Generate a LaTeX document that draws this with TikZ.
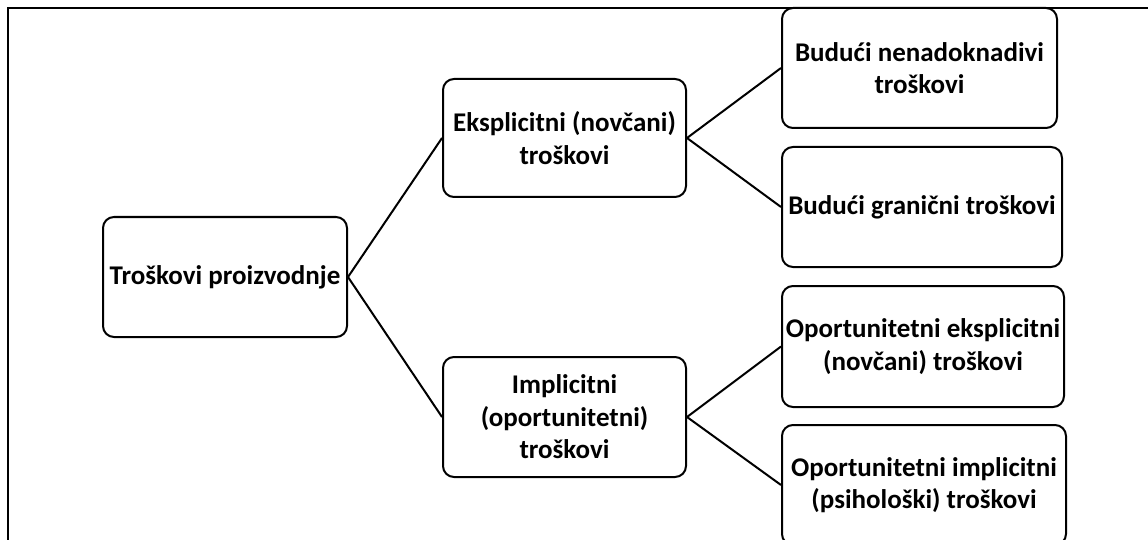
\documentclass[tikz,border=0pt]{standalone}
\usepackage{fontspec}
\setmainfont{Carlito}
\tikzset{
    kutija/.style={draw, line width=2pt, rounded corners=11pt, align=center,
        font=\fontsize{27}{32.5}\selectfont\bfseries, inner sep=2pt},
    veza/.style={line width=2pt}
}
\begin{document}
\begin{tikzpicture}[x=1pt, y=-1pt]
    \useasboundingbox (0,0) rectangle (1148,540);

    % Okvir
    \draw[line width=2.5pt] (8,541) -- (8,8) -- (1148,8);

    % Korijen
    \node[kutija, minimum width=244pt, minimum height=120pt] (trosk) at (225,277) {Troškovi proizvodnje};

    % Druga razina
    \node[kutija, minimum width=243pt, minimum height=118pt] (ekspl) at (564.5,138) {Eksplicitni (novčani)\\troškovi};
    \node[kutija, minimum width=243pt, minimum height=120pt] (impl) at (564.5,417) {Implicitni\\(oportunitetni)\\troškovi};

    % Treća razina
    \node[kutija, minimum width=275pt, minimum height=120pt] (nenad) at (919.5,68) {Budući nenadoknadivi\\troškovi};
    \node[kutija, minimum width=280pt, minimum height=120pt] (granic) at (922,207) {Budući granični troškovi};
    \node[kutija, minimum width=282pt, minimum height=121pt] (oporeks) at (923,346.5) {Oportunitetni eksplicitni\\(novčani) troškovi};
    \node[kutija, minimum width=284pt, minimum height=120pt] (oporimp) at (924,485) {Oportunitetni implicitni\\(psihološki) troškovi};

    % Veze
    \draw[veza] (ekspl.west) -- (trosk.east) -- (impl.west);
    \draw[veza] (nenad.west) -- (ekspl.east) -- (granic.west);
    \draw[veza] (oporeks.west) -- (impl.east) -- (oporimp.west);
\end{tikzpicture}
\end{document}
